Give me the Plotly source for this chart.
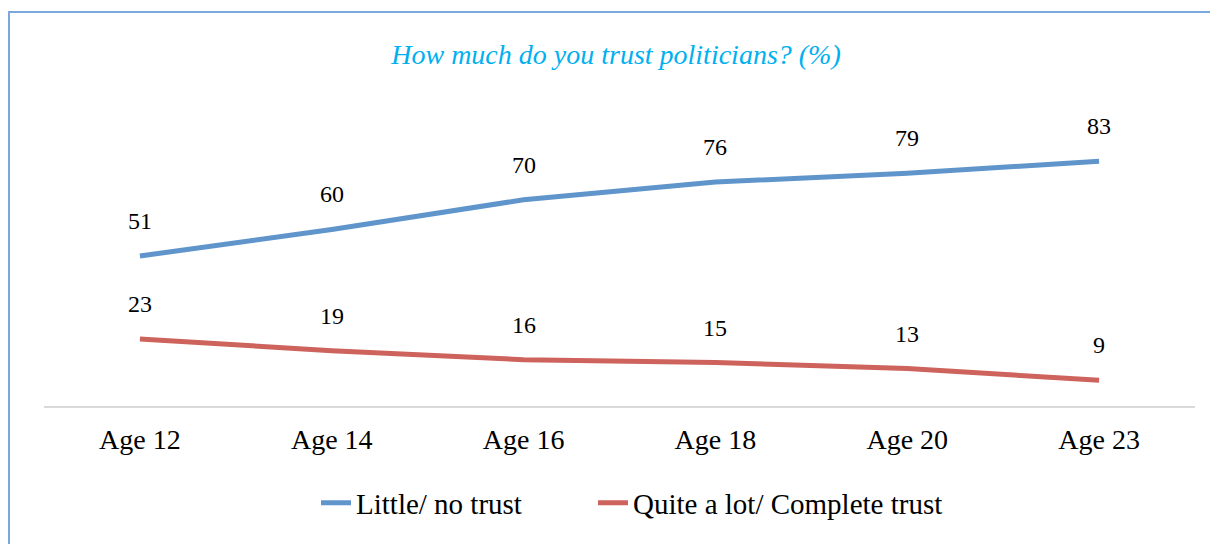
import plotly.graph_objects as go

categories = ["Age 12", "Age 14", "Age 16", "Age 18", "Age 20", "Age 23"]
little_no_trust = [51, 60, 70, 76, 79, 83]
quite_a_lot = [23, 19, 16, 15, 13, 9]
series_names = ["Little/ no trust", "Quite a lot/ Complete trust"]
title_text = "How much do you trust politicians? (%)"

BLUE = "#5F95CB"
RED = "#CD635C"
FONT = "Liberation Serif, Times New Roman, serif"

W, H = 1218, 544
# page offset of the figure inside the browser (body margin)
OX, OY = 8, 6
L, R, T, B = 44 - OX, 1218 - (1195 - OX), 109 - OY, 544 - (405 - OY)

pw = W - L - R
ph = H - T - B
def px_x(p):
    return (p - OX - L) / pw
def px_y(p):
    return (H - B - (p - OY)) / ph

fig = go.Figure()
legend_ids = ["legend", "legend2"]
for name, vals, col, lg in [(series_names[0], little_no_trust, BLUE, legend_ids[0]),
                            (series_names[1], quite_a_lot, RED, legend_ids[1])]:
    fig.add_trace(go.Scatter(x=categories, y=vals, name=name, mode="lines",
                             line=dict(color=col, width=5), legend=lg))
    for c, v in zip(categories, vals):
        fig.add_annotation(x=c, y=v, text=str(v), showarrow=False, yshift=35,
                           yanchor="middle", font=dict(family=FONT, size=24, color="#000000"))

border = "#7AA7DC"
fig.add_shape(type="line", xref="paper", yref="paper", x0=px_x(8), x1=px_x(1240),
              y0=px_y(10), y1=px_y(10), line=dict(color=border, width=2))
fig.add_shape(type="line", xref="paper", yref="paper", x0=px_x(9), x1=px_x(9),
              y0=px_y(10), y1=px_y(580), line=dict(color=border, width=2))

leg_common = dict(orientation="h", xanchor="left", yanchor="middle", y=px_y(501),
                  font=dict(family=FONT, size=29, color="#000000"), bgcolor="rgba(0,0,0,0)")

fig.update_layout(
    width=W, height=H,
    margin=dict(l=L, r=R, t=T, b=B, autoexpand=False),
    paper_bgcolor="white", plot_bgcolor="white",
    title=dict(text="<i>" + title_text + "</i>", x=(616 - OX) / W, xanchor="center",
               y=1 - (52 - OY) / H, yanchor="middle",
               font=dict(family=FONT, size=28, color="#00B0F0")),
    xaxis=dict(type="category", range=[-0.5, 5.5], showgrid=False, showline=False, ticks="",
               automargin=False,
               tickfont=dict(family=FONT, size=28, color="#000000"), ticklabelstandoff=13),
    yaxis=dict(range=[0, 100], showgrid=False, showticklabels=False, zeroline=True,
               automargin=False,
               zerolinecolor="#D9D9D9", zerolinewidth=2),
    showlegend=True,
    legend=dict(x=px_x(316), **leg_common),
    legend2=dict(x=px_x(593), **leg_common),
)

fig.write_html("out.html")
